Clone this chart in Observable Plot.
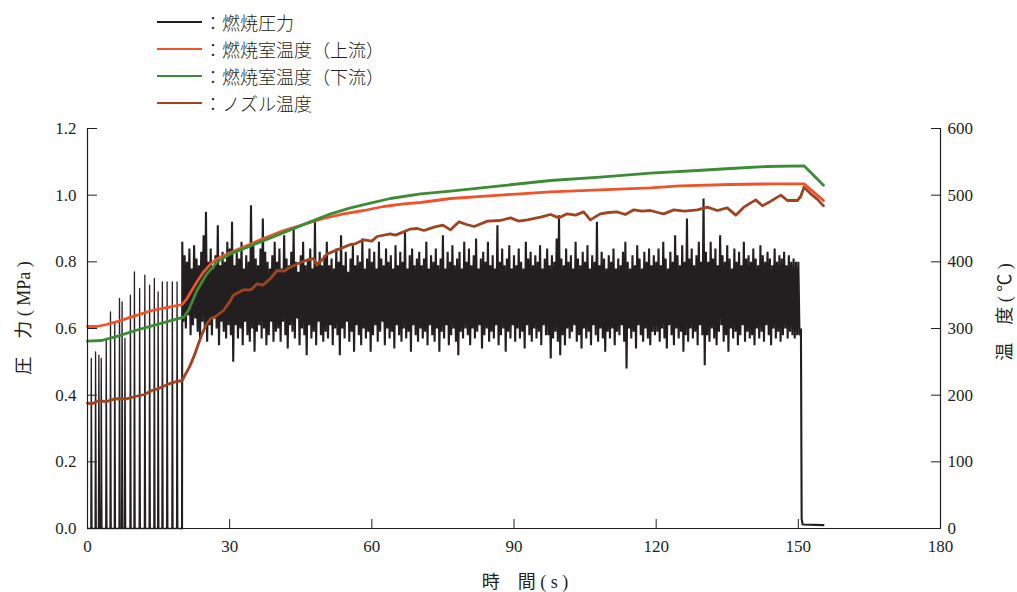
<!DOCTYPE html>
<html><head><meta charset="utf-8">
<script src="https://cdn.jsdelivr.net/npm/d3@7"></script>
<script src="https://cdn.jsdelivr.net/npm/@observablehq/plot@0.6"></script>
<style>
body{margin:0;background:#fff;}
#wrap{position:relative;width:1017px;height:592px;color:#231f20;font-family:"Liberation Serif","Noto Sans CJK JP",serif;}
#wrap svg{position:absolute;left:0;top:0;}
#legend{position:absolute;left:157px;top:8px;font-family:"Noto Sans CJK JP",sans-serif;font-size:18px;font-weight:300;}
.row{display:flex;align-items:center;height:27px;}
.sw{width:45px;height:2px;margin-right:2px;}
.lab{position:absolute;font-size:18px;white-space:pre;transform-origin:center;}
</style></head>
<body><div id="wrap"></div>
<script>
// ---- legend ----
const seriesNames = ["：燃焼圧力", "：燃焼室温度（上流）", "：燃焼室温度（下流）", "：ノズル温度"];
const seriesColors = ["#231f20", "#f0532a", "#3d8c35", "#9e4420"];

// ---- axes ----
const xTicks = [0, 30, 60, 90, 120, 150, 180];
const pTicks = [0, 0.2, 0.4, 0.6, 0.8, 1.0, 1.2];
const tTicks = [0, 100, 200, 300, 400, 500, 600];

// ---- pressure: ignition spikes (0-20 s) ----
const spikeT = [0.8, 1.7, 2.4, 2.9, 3.95, 4.85, 5.75, 6.75, 7.3, 7.9, 9.05, 9.9, 11.0, 12.1, 13.1, 14.1, 14.9, 15.8, 16.8, 17.9, 18.9];
const spikeP = [0.51, 0.53, 0.52, 0.51, 0.57, 0.65, 0.62, 0.69, 0.68, 0.57, 0.70, 0.77, 0.72, 0.76, 0.73, 0.75, 0.71, 0.74, 0.74, 0.74, 0.74];

// ---- pressure: combustion (20-150 s), oscillation crests (t=20+0.5i) and troughs (t=20.25+0.5i) ----
const pressureHi = [
0.86,0.82,0.80,0.84,0.78,0.85,0.81,0.79,0.83,0.88,0.95,0.80,0.84,0.78,0.82,0.91,0.79,0.83,0.80,0.86,
0.84,0.92,0.79,0.83,0.81,0.86,0.78,0.82,0.80,0.97,0.85,0.81,0.79,0.84,0.93,0.83,0.80,0.78,0.82,0.86,
0.80,0.84,0.78,0.88,0.81,0.79,0.83,0.90,0.80,0.77,0.82,0.86,0.79,0.81,0.84,0.78,0.92,0.80,0.83,0.79,
0.82,0.86,0.79,0.81,0.78,0.84,0.80,0.88,0.79,0.83,0.77,0.81,0.85,0.79,0.82,0.80,0.87,0.78,0.81,0.84,
0.80,0.83,0.78,0.86,0.81,0.79,0.84,0.80,0.82,0.78,0.85,0.79,0.83,0.80,0.89,0.78,0.82,0.84,0.79,0.81,
0.83,0.79,0.81,0.86,0.78,0.82,0.80,0.84,0.79,0.81,0.88,0.78,0.83,0.80,0.85,0.79,0.81,0.83,0.78,0.86,
0.80,0.84,0.79,0.82,0.87,0.78,0.81,0.83,0.80,0.86,0.79,0.82,0.78,0.91,0.80,0.84,0.79,0.81,0.85,0.78,
0.82,0.79,0.84,0.80,0.78,0.86,0.81,0.83,0.79,0.82,0.80,0.85,0.78,0.81,0.84,0.79,0.82,0.80,0.87,0.94,
0.81,0.79,0.84,0.80,0.82,0.78,0.86,0.81,0.79,0.83,0.80,0.85,0.78,0.82,0.80,0.92,0.79,0.83,0.81,0.78,
0.82,0.80,0.84,0.78,0.81,0.79,0.83,0.86,0.80,0.78,0.82,0.79,0.85,0.81,0.78,0.83,0.80,0.84,0.79,0.82,
0.80,0.84,0.79,0.86,0.81,0.78,0.83,0.80,0.88,0.82,0.79,0.85,0.80,0.93,0.81,0.84,0.79,0.82,0.86,0.80,
0.99,0.83,0.80,0.86,0.81,0.84,0.79,0.88,0.82,0.80,0.85,0.81,0.78,0.84,0.80,0.83,0.79,0.86,0.81,0.82,
0.80,0.84,0.81,0.79,0.85,0.82,0.80,0.83,0.81,0.79,0.84,0.80,0.82,0.81,0.83,0.79,0.82,0.80,0.81,0.80,
0.80];
const pressureLo = [
0.62,0.60,0.64,0.58,0.61,0.63,0.59,0.57,0.62,0.60,0.56,0.61,0.58,0.63,0.60,0.55,0.62,0.59,0.57,0.61,
0.58,0.50,0.61,0.57,0.60,0.55,0.62,0.58,0.56,0.60,0.53,0.59,0.61,0.57,0.60,0.55,0.58,0.62,0.56,0.59,
0.60,0.56,0.62,0.58,0.54,0.61,0.59,0.57,0.63,0.55,0.60,0.58,0.52,0.61,0.57,0.59,0.55,0.62,0.58,0.56,
0.59,0.57,0.61,0.55,0.60,0.58,0.52,0.60,0.57,0.62,0.56,0.59,0.53,0.61,0.58,0.55,0.60,0.57,0.59,0.53,
0.58,0.61,0.56,0.59,0.62,0.55,0.60,0.57,0.59,0.54,0.61,0.58,0.56,0.60,0.57,0.59,0.53,0.61,0.58,0.56,
0.60,0.57,0.59,0.55,0.61,0.58,0.56,0.60,0.53,0.59,0.57,0.61,0.55,0.58,0.60,0.56,0.52,0.59,0.57,0.60,
0.58,0.55,0.60,0.57,0.59,0.61,0.54,0.58,0.60,0.56,0.59,0.57,0.61,0.55,0.58,0.60,0.53,0.59,0.57,0.61,
0.56,0.60,0.57,0.59,0.54,0.61,0.58,0.56,0.60,0.57,0.59,0.55,0.61,0.58,0.58,0.51,0.57,0.59,0.56,0.52,
0.58,0.55,0.60,0.57,0.59,0.61,0.56,0.58,0.54,0.60,0.57,0.59,0.55,0.61,0.58,0.56,0.60,0.57,0.53,0.59,
0.57,0.60,0.55,0.59,0.58,0.61,0.56,0.48,0.60,0.57,0.59,0.54,0.61,0.58,0.56,0.60,0.57,0.55,0.59,0.58,
0.59,0.56,0.60,0.57,0.54,0.61,0.58,0.55,0.60,0.57,0.59,0.53,0.58,0.56,0.60,0.57,0.59,0.55,0.61,0.58,
0.49,0.58,0.56,0.60,0.57,0.55,0.59,0.61,0.56,0.58,0.53,0.60,0.57,0.59,0.55,0.58,0.61,0.56,0.59,0.57,
0.58,0.55,0.60,0.57,0.59,0.56,0.61,0.58,0.55,0.60,0.57,0.59,0.56,0.58,0.60,0.57,0.59,0.58,0.57,0.58,
0.58];
// ---- pressure: shutdown ----
const tailT = [150.55, 150.7, 150.9, 155.3];
const tailP = [0.60, 0.03, 0.012, 0.01];

// ---- temperatures (°C) ----
const upT = [0, 2, 4, 6.6, 10, 13.6, 17.2, 20, 21, 22, 23, 24.5, 26, 27.4, 30.2, 32.9, 37.1, 41.4, 45.6, 49.8, 54, 58.3, 62.5, 66.7, 70.3, 76.6, 87.1, 97.7, 108.2, 118.8, 125, 135.7, 145, 151.2, 153, 155.3];
const upV = [303, 303, 306, 311, 319, 327, 332, 336, 345, 357, 369, 385, 397, 405, 414, 422, 435, 447, 456, 465, 472, 477, 483, 487, 489, 495, 500, 505, 508, 511, 514, 516, 517, 517, 506, 492];

const downT = [0, 3, 6.6, 10.1, 13.6, 17.2, 20.3, 21.3, 22.2, 23.1, 24.2, 25.2, 27.4, 30.2, 34.4, 38.6, 42.8, 47, 51.3, 55.5, 59.7, 63.9, 70.3, 76.6, 87.1, 97.7, 108.2, 118.8, 128.7, 135.7, 143.4, 151.2, 155.3];
const downV = [281, 282, 289, 297, 304, 311, 317, 327, 342, 357, 370, 382, 400, 412, 424, 436, 448, 460, 472, 481, 488, 495, 502, 506, 514, 522, 527, 533, 537, 540, 543, 544, 515];

const nozT = [0, 1, 2.4, 4, 5, 6.6, 8, 10.1, 12, 13.6, 15, 17.2, 18.5, 20, 20.7, 21.5, 22.4, 23.3, 24.2, 25, 26, 27, 28.7, 30, 30.8, 32.9, 34.5, 35.8, 37, 38.6, 40, 41.5, 42.8, 44, 45.6, 47.7, 48.4, 49.5, 50.6, 52.7, 55.5, 56.5, 58.3, 60, 61.1, 63.9, 65, 66.7, 68, 69.6, 71, 73.1, 75, 76.6, 78.4, 80, 81.6, 84.4, 87.1, 89.3, 91, 92.8, 95.6, 97.7, 99.5, 101.2, 103, 104.7, 106.1, 108.2, 110, 111.7, 113.5, 115.3, 117, 118.8, 120.3, 121.6, 123.7, 126, 128.7, 130.8, 132.9, 135, 136.8, 138.5, 141, 142.4, 144.2, 146.3, 147.7, 149.8, 150.5, 151.2, 152.6, 154, 155.3];
const nozV = [188, 187, 192, 190, 193, 195, 194, 198, 201, 207, 210, 217, 220, 222, 232, 242, 257, 275, 292, 305, 315, 318, 327, 340, 350, 358, 358, 367, 365, 375, 387, 386, 392, 396, 401, 405, 395, 403, 412, 418, 426, 427, 433, 431, 438, 442, 440, 445, 449, 450, 447, 452, 455, 448, 460, 456, 453, 461, 462, 466, 461, 463, 467, 471, 466, 472, 470, 475, 463, 472, 474, 475, 471, 478, 476, 477, 474, 472, 478, 476, 478, 482, 477, 481, 470, 482, 493, 484, 491, 500, 492, 492, 498, 512, 502, 494, 484];

// ---- build tables ----
const ignitionRows = [{t: 0, p: 0}];
spikeT.forEach((t, i) => {
  ignitionRows.push({t: t - 0.1, p: 0}, {t, p: spikeP[i]}, {t: t + 0.15, p: 0});
});
ignitionRows.push({t: 19.95, p: 0});
const combustionRows = [{t: 19.95, p: 0}];
pressureHi.forEach((v, i) => {
  combustionRows.push({t: 20 + 0.5 * i, p: v});
  combustionRows.push({t: 20.25 + 0.5 * i, p: pressureLo[i]});
});
tailT.forEach((t, i) => combustionRows.push({t, p: tailP[i]}));

const toRows = (T, V) => T.map((t, i) => ({t, v: V[i]}));
const upRows = toRows(upT, upV);
const downRows = toRows(downT, downV);
const nozRows = toRows(nozT, nozV);
const TSCALE = 500; // 1.2 MPa <-> 600 °C

const ink = "#231f20";
const chart = Plot.plot({
  width: 1017,
  height: 592,
  marginTop: 128,
  marginBottom: 64,
  marginLeft: 87,
  marginRight: 77,
  x: {domain: [0, 180]},
  y: {domain: [0, 1.2]},
  style: {fontFamily: "'Liberation Serif', serif", fontSize: "17px", color: ink, background: "transparent"},
  marks: [
    Plot.line(ignitionRows, {x: "t", y: "p", stroke: seriesColors[0], strokeWidth: 1.3}),
    Plot.line(combustionRows, {x: "t", y: "p", stroke: seriesColors[0], strokeWidth: 2.1, strokeLinejoin: "miter"}),
    Plot.line(nozRows, {x: "t", y: d => d.v / TSCALE, stroke: seriesColors[3], strokeWidth: 2.8}),
    Plot.line(upRows, {x: "t", y: d => d.v / TSCALE, stroke: seriesColors[1], strokeWidth: 2.8}),
    Plot.line(downRows, {x: "t", y: d => d.v / TSCALE, stroke: seriesColors[2], strokeWidth: 2.8}),
    Plot.ruleX([0, 180], {y1: 0, y2: 1.2, stroke: ink, strokeWidth: 1.2}),
    Plot.ruleY([0], {stroke: ink, strokeWidth: 1.2}),
    Plot.axisY(pTicks, {anchor: "left", tickSize: 10, dx: 10, tickPadding: 11, tickFormat: d => d.toFixed(1), label: null, stroke: ink}),
    Plot.axisY(tTicks.map(d => d / TSCALE), {anchor: "right", tickSize: 10, dx: -10, tickPadding: 7, tickFormat: d => String(Math.round(d * TSCALE)), label: null, stroke: ink}),
    Plot.axisX(xTicks, {anchor: "bottom", tickSize: 9, dy: -9, tickPadding: 11, label: null, stroke: ink})
  ]
});

const wrap = document.getElementById("wrap");
wrap.appendChild(chart);

// legend
const legend = document.createElement("div");
legend.id = "legend";
seriesNames.forEach((name, i) => {
  const row = document.createElement("div");
  row.className = "row";
  const sw = document.createElement("span");
  sw.className = "sw";
  sw.style.background = seriesColors[i];
  const tx = document.createElement("span");
  tx.textContent = name;
  row.appendChild(sw);
  row.appendChild(tx);
  legend.appendChild(row);
});
wrap.appendChild(legend);

// axis titles
function addLabel(text, cx, cy, rot) {
  const d = document.createElement("div");
  d.className = "lab";
  d.textContent = text;
  d.style.left = cx + "px";
  d.style.top = cy + "px";
  d.style.transform = `translate(-50%,-50%) rotate(${rot}deg)`;
  wrap.appendChild(d);
}
addLabel("圧\u3000力 ( MPa )", 22, 318, -90);
addLabel("温\u3000度 ( ℃ )", 1003, 312, -90);
addLabel("時\u3000間 ( s )", 525, 580, 0);
</script>
</body></html>
